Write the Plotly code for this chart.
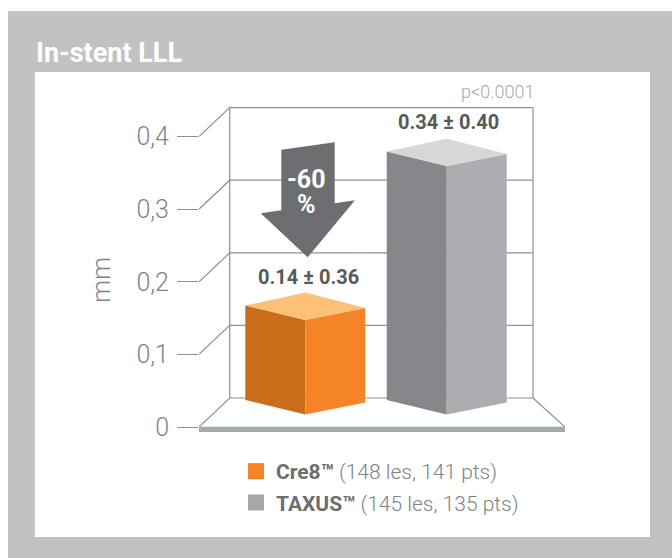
import plotly.graph_objects as go

# ---- data ----
categories = ["Cre8", "TAXUS"]
bar_positions = [1, 2]
drawn_heights = [0.130, 0.342]      # height of the drawn bars on the mm axis
value_labels = ["0.14 ± 0.36", "0.34 ± 0.40"]
legend_bold = ["Cre8™", "TAXUS™"]
legend_rest = ["(148 les, 141 pts)", "(145 les, 135 pts)"]
tick_values = [0, 0.1, 0.2, 0.3, 0.4]
tick_labels = ["0", "0,1", "0,2", "0,3", "0,4"]
reduction = ["-60", "%"]
p_value = "p<0.0001"
chart_title = "In-stent LLL"
y_title = "mm"

# ---- styles ----
W, H = 672, 558
L, R, T, B = 199, 565, 100, 440
Y0_PX = 427.0
PX_PER_MM = 726.0
PX_PER_X = 141.4
FONT = "Roboto"
PANEL = "#c2c2c4"
LINE = "#8f9193"
TXT = "#6d6e71"
LIGHT = "#808285"
ORANGE = ["#c96d1b", "#f58426", "#fdc077"]
GREY = ["#87878b", "#adadb1", "#d7d7d9"]
FACES = [ORANGE, GREY]
SWATCH = ["#f58426", "#a7a6ab"]

y_range = [-(B - Y0_PX) / PX_PER_MM, (Y0_PX - T) / PX_PER_MM]
x_range = [1 - (305.3 - L) / PX_PER_X, 1 + (R - 305.3) / PX_PER_X]

# 3D projection, in axis units
WALL_DY = 29 / PX_PER_MM
WALL_X0 = x_range[0] + 30.7 / PX_PER_X
WALL_X1 = x_range[0] + 334 / PX_PER_X
HALF = 60 / PX_PER_X
FRONT_BASE = 12.6 / PX_PER_MM
LEFT_UP = 14.5 / PX_PER_MM
RIGHT_UP = 12.0 / PX_PER_MM
BACK_UP = 27.4 / PX_PER_MM


def pap(x, y):
    return (x - L) / (R - L), (B - y) / (B - T)


fig = go.Figure()


def poly(xs, ys, color):
    fig.add_trace(go.Scatter(x=xs, y=ys, mode="lines", fill="toself", fillcolor=color,
                             line=dict(width=0, color=color), hoverinfo="skip", showlegend=False))


def line(xs, ys):
    fig.add_trace(go.Scatter(x=xs, y=ys, mode="lines", line=dict(color=LINE, width=1.2),
                             hoverinfo="skip", showlegend=False))


# back wall and floor lines
for t in tick_values:
    line([x_range[0], WALL_X0, WALL_X1], [t, t + WALL_DY, t + WALL_DY])
line([WALL_X0, WALL_X0], [WALL_DY, tick_values[-1] + WALL_DY])
line([WALL_X1, WALL_X1], [WALL_DY, tick_values[-1] + WALL_DY])
line([WALL_X1, x_range[1]], [WALL_DY, 0])

# floor strip
poly([x_range[0], x_range[1], x_range[1], x_range[0]], [0.0005, 0.0005, -0.0068, -0.0068], "#a5aaa8")

# bars
for c, h, f in zip(bar_positions, drawn_heights, FACES):
    fb, ft = FRONT_BASE, FRONT_BASE + h
    poly([c - HALF, c, c, c - HALF], [fb + LEFT_UP, fb, ft, ft + LEFT_UP], f[0])
    poly([c, c + HALF, c + HALF, c], [fb, fb + RIGHT_UP, ft + RIGHT_UP, ft], f[1])
    poly([c - HALF, c, c + HALF, c], [ft + LEFT_UP, ft, ft + RIGHT_UP, ft + BACK_UP], f[2])

# legend
for bold, rest, col in zip(legend_bold, legend_rest, SWATCH):
    name = '<span style="color:%s"><b>%s</b></span> %s' % (TXT, bold, rest)
    fig.add_trace(go.Scatter(x=[None], y=[None], mode="markers", name=name, legendgroup=bold,
                             marker=dict(symbol="square", size=16, color=col)))

# arrow
arrow_px = [(281.3, 149.7), (334.7, 142.3), (334.7, 203.3), (355, 200.3),
            (307.7, 257.3), (260.7, 213.3), (281.3, 210.3)]
path = "M " + " L ".join("%.4f %.4f" % pap(*p) for p in arrow_px) + " Z"
shapes = [
    dict(type="rect", xref="paper", yref="paper", layer="below", line_width=0, fillcolor=PANEL,
         x0=pap(8, 0)[0], x1=pap(672, 0)[0], y0=pap(0, 558)[1], y1=pap(0, 11)[1]),
    dict(type="rect", xref="paper", yref="paper", layer="below", line_width=0, fillcolor="white",
         x0=pap(35, 0)[0], x1=pap(650, 0)[0], y0=pap(0, 537)[1], y1=pap(0, 72)[1]),
    dict(type="path", xref="paper", yref="paper", layer="above", line_width=0, fillcolor="#6d6e71", path=path),
]

ann = []
label_y = [(Y0_PX - 276.7) / PX_PER_MM, (Y0_PX - 121.7) / PX_PER_MM]
label_dx = [3.5 / PX_PER_X, 1.3 / PX_PER_X]
for c, t, y, dx in zip(bar_positions, value_labels, label_y, label_dx):
    ann.append(dict(x=c + dx, y=y, text="<b>%s</b>" % t, showarrow=False, yanchor="middle",
                    font=dict(family=FONT, size=20, color="#58595b")))
for t, py in zip(reduction, [179, 204]):
    ann.append(dict(x=pap(306, 0)[0], y=pap(0, py)[1], xref="paper", yref="paper", text="<b>%s</b>" % t,
                    showarrow=False, xanchor="center", yanchor="middle",
                    font=dict(family=FONT, size=25, color="white")))
ann.append(dict(x=pap(536, 0)[0], y=pap(0, 91)[1], xref="paper", yref="paper", text=p_value, showarrow=False,
                xanchor="right", yanchor="middle", font=dict(family=FONT, size=18, weight=300, color="#a7a9ac")))
ann.append(dict(x=pap(101, 0)[0], y=pap(0, 280)[1], xref="paper", yref="paper", text=y_title, showarrow=False,
                textangle=-90, xanchor="center", yanchor="middle",
                font=dict(family=FONT, size=26, weight=300, color=LIGHT)))

fig.update_layout(
    width=W, height=H,
    margin=dict(l=L, r=W - R, t=T, b=H - B, pad=0, autoexpand=False),
    paper_bgcolor="white", plot_bgcolor="rgba(0,0,0,0)",
    title=dict(text="<b>%s</b>" % chart_title, xref="container", yref="container",
               x=36 / W, xanchor="left", y=1 - 53 / H, yanchor="middle",
               font=dict(family=FONT, size=27, color="white")),
    xaxis=dict(range=x_range, showgrid=False, zeroline=False, showticklabels=False, ticks="", showline=False),
    yaxis=dict(range=y_range, tickmode="array", tickvals=tick_values, ticktext=tick_labels,
               showgrid=False, zeroline=False, showline=False, automargin=False,
               ticks="outside", ticklen=21, tickwidth=1.2, tickcolor=LINE, ticklabelstandoff=3,
               tickfont=dict(family=FONT, size=25, weight=300, color=LIGHT)),
    showlegend=True,
    legend=dict(xref="container", yref="container", x=236 / W, y=1 - 451 / H, xanchor="left", yanchor="top",
                bgcolor="rgba(0,0,0,0)", tracegroupgap=1, itemclick=False, itemdoubleclick=False,
                font=dict(family=FONT, size=21, weight=300, color=LIGHT)),
    shapes=shapes, annotations=ann,
)
fig.write_html("out.html", config={"displayModeBar": False},
               post_script="document.body.style.margin='0';")
